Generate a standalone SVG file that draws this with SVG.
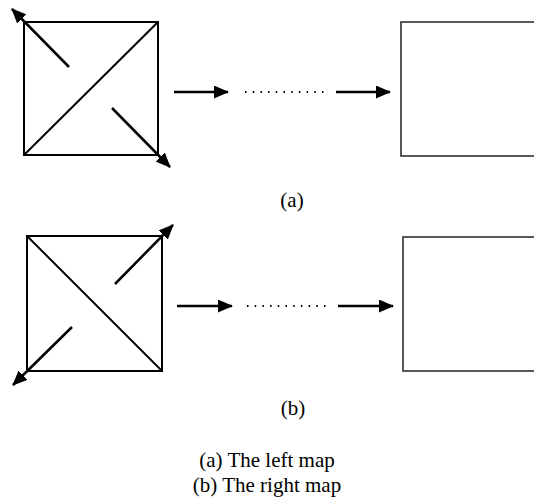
<svg xmlns="http://www.w3.org/2000/svg" width="534" height="498" viewBox="0 0 534 498">
<style>
.sq{fill:none;stroke:#000;stroke-width:2}
.box{fill:none;stroke:#222;stroke-width:1.5}
.arr{stroke:#000;stroke-width:2.5;fill:none;marker-end:url(#ah)}
.dot{stroke:#000;stroke-width:2;stroke-dasharray:1.5 6.2;fill:none}
.lbl{font-family:"Liberation Serif","Times New Roman",serif;font-size:21px;fill:#000;text-anchor:middle}
</style>
<defs>
<marker id="ah" markerUnits="userSpaceOnUse" markerWidth="15" markerHeight="13" refX="14" refY="6.5" orient="auto" viewBox="0 0 15 13">
<path d="M0,0 L15,6.5 L0,13 z" fill="#000"/>
</marker>
</defs>
<g id="mapA">
<rect class="sq" x="24" y="22" width="134" height="133"/>
<line class="sq" x1="24" y1="155" x2="158" y2="22"/>
</g>
<g id="targetA">
<rect class="box" x="401" y="22" width="140" height="134"/>
</g>
<g id="mapB">
<rect class="sq" x="27" y="236" width="135" height="135"/>
<line class="sq" x1="27" y1="236" x2="162" y2="371"/>
</g>
<g id="targetB">
<rect class="box" x="403" y="237" width="140" height="134"/>
</g>
<g id="connectors">
<line class="arr" x1="69" y1="67" x2="12" y2="9"/>
<line class="arr" x1="112" y1="108" x2="170" y2="167"/>
<line class="arr" x1="174" y1="92" x2="228" y2="92"/>
<line class="dot" x1="245" y1="92" x2="324" y2="92"/>
<line class="arr" x1="336" y1="92" x2="390" y2="92"/>
<line class="arr" x1="115" y1="284" x2="173" y2="225"/>
<line class="arr" x1="72" y1="327" x2="13" y2="385"/>
<line class="arr" x1="177" y1="306" x2="232" y2="306"/>
<line class="dot" x1="247" y1="306" x2="326" y2="306"/>
<line class="arr" x1="338" y1="306" x2="393" y2="306"/>
</g>
<g id="labels">
<text class="lbl" x="292" y="207">(a)</text>
<text class="lbl" x="293" y="415">(b)</text>
<text class="lbl" x="267" y="467">(a) The left map</text>
<text class="lbl" x="267" y="492">(b) The right map</text>
</g>
</svg>
